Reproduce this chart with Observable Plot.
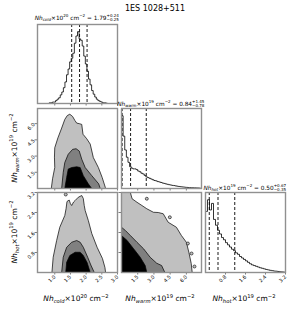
<!DOCTYPE html>
<html><head><meta charset="utf-8">
<script src="https://cdn.jsdelivr.net/npm/d3@7"></script>
<script src="https://cdn.jsdelivr.net/npm/@observablehq/plot@0.6"></script>
<style>
html,body{margin:0;padding:0;background:#fff;}
#fig{position:relative;width:294px;height:309px;overflow:hidden;font-family:"DejaVu Sans",sans-serif;}
#fig svg.panel{position:absolute;overflow:visible;}
#overlay{position:absolute;left:0;top:0;overflow:visible;}
</style></head><body><div id="fig"></div>
<script>
// ---------------- data ----------------
const figTitle = "1ES 1028+511";
const paramNames = ["cold", "warm", "hot"];
const paramExp = ["20", "19", "19"];
const medians = [1.79, 0.84, 0.50];
const errPlus = [0.24, 1.45, 0.67];
const errMinus = [0.25, 0.78, 0.35];

const coldDomain = [0.45, 3.0];
const warmDomain = [0, 7.4];
const hotDomain = [0, 3.2];
const coldTicks = [1.0, 1.5, 2.0, 2.5, 3.0];
const warmTicks = [1.5, 3.0, 4.5, 6.0];
const hotTicks = [0.8, 1.6, 2.4, 3.2];

const coldHistX = [0.45, 0.80, 0.85, 0.90, 0.95, 1.00, 1.05, 1.10, 1.15, 1.20, 1.25, 1.30, 1.35, 1.40, 1.45, 1.50, 1.55, 1.60, 1.65, 1.70, 1.75, 1.80, 1.85, 1.90, 1.95, 2.00, 2.05, 2.10, 2.15, 2.20, 2.25, 2.30, 2.35, 2.40, 2.45, 2.50, 2.55, 2.60, 2.65, 2.70, 3.00];
const coldHistY = [0, 0, 1, 1, 2, 2, 4, 6, 8, 12, 16, 22, 30, 40, 48, 58, 63, 70, 84, 94, 100, 90, 88, 80, 66, 55, 45, 34, 26, 18, 13, 9, 6, 4, 3, 2, 1, 1, 0.5, 0, 0];

const warmHistX = [0.075, 0.225, 0.375, 0.525, 0.675, 0.825, 0.975, 1.125, 1.275, 1.425, 1.575, 1.725, 1.875, 2.025, 2.175, 2.325, 2.475, 2.625, 2.775, 2.925, 3.075, 3.225, 3.375, 3.525, 3.675, 3.825, 3.975, 4.125, 4.275, 4.425, 4.575, 4.725, 4.875, 5.025, 5.175, 5.325, 5.475, 5.625, 5.775, 5.925, 6.075, 6.225, 6.375, 6.525, 6.675, 6.825, 6.975, 7.125, 7.275];
const warmHistY = [100, 72, 53, 43, 36, 30, 28, 27, 27, 26, 24, 23, 21, 20, 18, 16, 15, 14, 13, 12, 11, 10.5, 9.5, 9, 8.3, 7.5, 7, 6.3, 5.8, 5.2, 4.8, 4.3, 4, 3.6, 3.2, 2.8, 2.5, 2.2, 2, 1.7, 1.5, 1.3, 1.2, 1.1, 1, 0.9, 0.8, 0.7, 0.6];

const hotHistX = [0.04, 0.12, 0.20, 0.28, 0.36, 0.44, 0.52, 0.60, 0.68, 0.76, 0.84, 0.92, 1.00, 1.08, 1.16, 1.24, 1.32, 1.40, 1.48, 1.56, 1.64, 1.72, 1.80, 1.88, 1.96, 2.04, 2.12, 2.20, 2.28, 2.36, 2.44, 2.52, 2.60, 2.68, 2.76, 2.84, 2.92, 3.00, 3.08, 3.16];
const hotHistY = [84, 100, 86, 95, 73, 65, 58, 53, 48, 45, 41, 38, 35, 32, 30, 27, 25, 22, 20, 18, 16, 14, 12, 10.5, 9.5, 8.5, 7.5, 6.5, 5.8, 5, 4.2, 3.6, 3, 2.5, 2, 1.8, 1.4, 1, 0.8, 0.5];

// contour outlines [x, y] in data units
const coldWarmOuter = [[0.89,0],[0.93,0.9],[1.0,1.94],[0.99,2.9],[1.0,3.77],[1.10,4.68],[1.22,5.59],[1.32,6.39],[1.40,6.75],[1.48,6.87],[1.57,6.66],[1.64,6.3],[1.70,6.05],[1.78,6.0],[1.86,5.93],[1.90,5.02],[2.02,4.6],[2.13,4.11],[2.23,2.86],[2.39,1.94],[2.51,1.03],[2.61,0.12],[2.62,0]];
const coldWarmMid = [[1.22,0],[1.27,1.49],[1.32,2.40],[1.43,3.17],[1.57,3.62],[1.68,3.68],[1.78,3.47],[1.86,2.71],[1.97,1.94],[2.18,1.19],[2.40,0.43],[2.45,0]];
const coldWarmInner = [[1.32,0],[1.38,1.03],[1.43,1.80],[1.54,1.94],[1.70,2.01],[1.81,1.94],[1.91,1.19],[2.07,0.43],[2.18,0]];

const coldHotOuter = [[0.91,0],[0.95,0.61],[1.06,1.28],[1.16,1.81],[1.32,2.28],[1.36,2.55],[1.39,2.84],[1.46,2.9],[1.50,2.75],[1.54,2.68],[1.60,2.82],[1.65,2.88],[1.75,3.01],[1.86,3.08],[1.91,2.96],[1.94,2.68],[1.97,2.48],[2.07,2.08],[2.18,1.56],[2.35,1.01],[2.52,0.56],[2.60,0.2],[2.62,0]];
const coldHotMid = [[1.22,0],[1.27,0.61],[1.38,1.01],[1.54,1.21],[1.70,1.28],[1.81,1.21],[1.91,1.01],[2.05,0.61],[2.15,0.3],[2.26,0]];
const coldHotInner = [[1.35,0],[1.38,0.41],[1.48,0.68],[1.65,0.81],[1.81,0.81],[1.91,0.68],[2.03,0.40],[2.13,0]];
const coldHotIslands = [[1.35,3.12]];

const warmHotOuter = [[0,0],[0,3.2],[0.82,3.2],[0.98,2.95],[1.43,2.81],[1.89,2.68],[2.34,2.55],[2.95,2.41],[3.4,2.4],[3.86,2.35],[4.32,2.01],[5.08,1.81],[5.54,1.48],[6.0,1.21],[6.23,0.81],[6.45,0.36],[6.54,0]];
const warmHotMid = [[0,0],[0,1.81],[0.36,1.68],[0.82,1.48],[1.43,1.21],[2.04,0.95],[2.65,0.61],[3.26,0.37],[3.71,0.28],[4.01,0]];
const warmHotInner = [[0,0],[0,1.48],[0.52,1.28],[1.12,0.95],[1.73,0.61],[2.19,0.28],[2.34,0]];
const warmHotIslands = [[2.34,2.95],[4.47,2.21],[6.14,1.16],[6.48,0.76],[6.75,0.24]];

// ---------------- layout ----------------
const fig = document.getElementById("fig");
const colX = [37, 121, 205];
const rowY = [24, 108, 192];
const rowH = [79, 80, 80];
const PW = 80;
const ml = 26, mr = 8, mt = 6, mb = 26;
const levelFill = ["#c0c0c0", "#808080", "#000000"];
const fmt1 = d3.format(".1f");

function hist(xs, ys) {
  return Plot.line(xs.map((x, i) => ({x, y: ys[i]})), {x: "x", y: "y", curve: "step", stroke: "black", strokeWidth: 0.8, clip: true});
}
function quantRules(i) {
  return Plot.ruleX([medians[i] - errMinus[i], medians[i], medians[i] + errPlus[i]],
    {stroke: "black", strokeWidth: 0.9, strokeDasharray: "3,2"});
}
function contours(levels, islands) {
  const m = levels.map((poly, k) => Plot.line(poly, {x: d => d[0], y: d => d[1], fill: levelFill[k], stroke: "black", strokeWidth: 0.7, clip: true}));
  if (islands) m.push(Plot.dot(islands, {x: d => d[0], y: d => d[1], r: 1.5, fill: levelFill[0], stroke: "black", strokeWidth: 0.6, clip: true}));
  return m;
}

function panel(ci, ri, cfg) {
  const H = rowH[ri];
  const marks = [...cfg.marks,
    Plot.axisX({ticks: cfg.xTicks, tickSize: 2.5, tickPadding: 1, tickRotate: -45,
      tickFormat: cfg.xLab ? fmt1 : () => "", label: null, stroke: "#444", strokeWidth: 0.7, fontSize: 5})];
  if (cfg.yTicks) marks.push(Plot.axisY({ticks: cfg.yTicks, tickSize: 2.5, tickPadding: 1, tickRotate: -45,
      tickFormat: cfg.yLab ? fmt1 : () => "", label: null, stroke: "#444", strokeWidth: 0.7, fontSize: 5}));
  marks.push(Plot.frame({stroke: "#909090", strokeWidth: 1.4}));
  const svg = Plot.plot({
    width: PW + ml + mr, height: H + mt + mb,
    marginLeft: ml, marginRight: mr, marginTop: mt, marginBottom: mb,
    x: {domain: cfg.xDomain, axis: null},
    y: {domain: cfg.yDomain, axis: null},
    style: {background: "transparent", fontFamily: "DejaVu Sans", fontSize: "5px", overflow: "visible"},
    marks
  });
  svg.classList.add("panel");
  svg.style.left = (colX[ci] - ml) + "px";
  svg.style.top = (rowY[ri] - mt) + "px";
  svg.style.maxWidth = "none";
  fig.appendChild(svg);
}

const histDomain = [0, 110];
panel(0, 0, {xDomain: coldDomain, yDomain: histDomain, xTicks: coldTicks, xLab: false,
  marks: [hist(coldHistX, coldHistY), quantRules(0)]});
panel(0, 1, {xDomain: coldDomain, yDomain: warmDomain, xTicks: coldTicks, xLab: false, yTicks: warmTicks, yLab: true,
  marks: contours([coldWarmOuter, coldWarmMid, coldWarmInner])});
panel(1, 1, {xDomain: warmDomain, yDomain: histDomain, xTicks: warmTicks, xLab: false,
  marks: [hist(warmHistX, warmHistY), quantRules(1)]});
panel(0, 2, {xDomain: coldDomain, yDomain: hotDomain, xTicks: coldTicks, xLab: true, yTicks: hotTicks, yLab: true,
  marks: contours([coldHotOuter, coldHotMid, coldHotInner], coldHotIslands)});
panel(1, 2, {xDomain: warmDomain, yDomain: hotDomain, xTicks: warmTicks, xLab: true, yTicks: hotTicks, yLab: false,
  marks: contours([warmHotOuter, warmHotMid, warmHotInner], warmHotIslands)});
panel(2, 2, {xDomain: hotDomain, yDomain: histDomain, xTicks: hotTicks, xLab: true,
  marks: [hist(hotHistX, hotHistY), quantRules(2)]});

// ---------------- text overlay ----------------
const overlay = d3.select(fig).append("svg").attr("id", "overlay").attr("width", 294).attr("height", 309)
  .attr("font-family", "DejaVu Sans, sans-serif");

function mathText(x, y, size, parts, rotate = 0) {
  const g = overlay.append("g").attr("transform", `translate(${x},${y}) rotate(${rotate})`);
  const text = g.append("text").attr("font-size", size).attr("fill", "black").style("white-space", "pre");
  const small = size * 0.7;
  let shift = 0;
  for (const p of parts) {
    if (p.stack) {
      const upT = -0.45 * size, dnT = 0.3 * size;
      const up = text.append("tspan").attr("font-size", small).attr("dy", upT - shift).text(p.stack[0]);
      const w = up.node().getComputedTextLength();
      text.append("tspan").attr("font-size", small).attr("dx", -w).attr("dy", dnT - upT).text(p.stack[1]);
      shift = dnT;
      continue;
    }
    const target = p.sup ? -0.45 * size : p.sub ? 0.28 * size : 0;
    const ts = text.append("tspan").attr("dy", target - shift).attr("font-size", (p.sup || p.sub) ? small : size).text(p.t);
    if (p.i) ts.attr("font-style", "italic");
    shift = target;
  }
  const bb = text.node().getBBox();
  text.attr("transform", `translate(${-(bb.x + bb.width / 2)},0)`);
}

function nameParts(i) {
  return [{t: "Nh", i: true}, {t: paramNames[i], i: true, sub: true}, {t: "×10"}, {t: paramExp[i], sup: true},
          {t: " cm"}, {t: "−2", sup: true}];
}
const fmt2 = d3.format(".2f");
function titleParts(i) {
  return [...nameParts(i), {t: " = " + fmt2(medians[i])},
          {stack: ["+" + fmt2(errPlus[i]), "−" + fmt2(errMinus[i])]}];
}

overlay.append("text").attr("x", 155).attr("y", 11).attr("text-anchor", "middle").attr("font-size", 8).text(figTitle);

const titleY = [19.5, 105.5, 189.5];
for (let i = 0; i < 3; i++) {
  mathText(colX[i] + PW / 2, titleY[i], 5.8, titleParts(i));
  mathText(colX[i] + PW / 2 - 1, 301, 7.5, nameParts(i));
}
mathText(16.5, rowY[1] + 40, 7.5, nameParts(1), -90);
mathText(16.5, rowY[2] + 40, 7.5, nameParts(2), -90);
</script></body></html>
